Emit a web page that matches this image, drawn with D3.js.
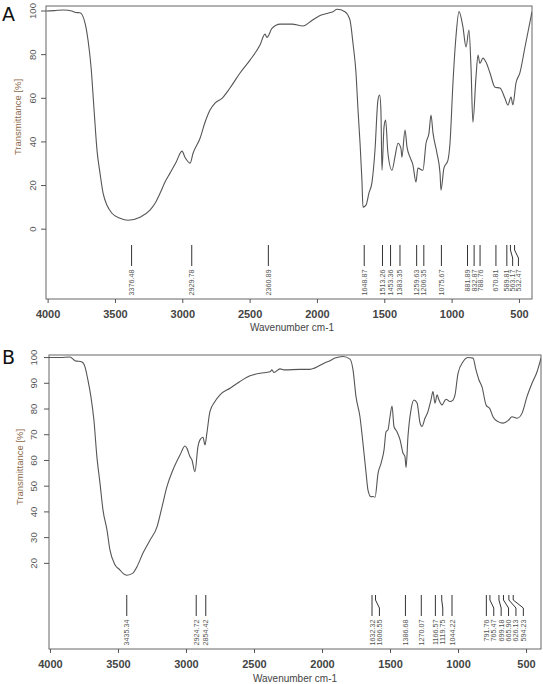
<!DOCTYPE html>
<html><head><meta charset="utf-8">
<script src="https://cdn.jsdelivr.net/npm/d3@7"></script>
<style>body{margin:0;background:#fff}svg{display:block}</style>
</head><body>
<svg id="c" width="543" height="684"></svg>
<script>
// ---- Data ----
const xTicks = [4000,3500,3000,2500,2000,1500,1000,500];
const yTicksA = [0,20,40,60,80,100];
const yTicksB = [20,30,40,50,60,70,80,90,100];

const waveA = [4010,3950,3880,3820,3790,3760,3722,3700,3677,3655,3633,3611,3588,3559,3522,3462,3403,3314,3240,3202,3165,3128,3091,3046,3002,2980,2942,2920,2868,2831,2794,2757,2705,2646,2571,2497,2423,2386,2371,2334,2274,2185,2104,2052,1977,1918,1881,1851,1792,1755,1732,1710,1695,1680,1666,1658,1636,1614,1591,1569,1547,1534,1525,1517,1502,1490,1473,1443,1421,1398,1376,1369,1346,1331,1309,1287,1265,1250,1213,1190,1168,1153,1138,1109,1086,1079,1057,1027,1012,990,968,945,916,893,871,856,842,819,804,790,767,745,715,678,641,604,582,559,545,522,493,455,403];
const transA = [100,100.2,100.5,100,99.3,99.2,94.5,86.7,74,54.6,36,25.7,16.5,11,7.3,5,4.1,5.5,8.7,11.9,16.5,21.6,25.7,30.7,35.8,33,30.3,34.8,41.7,49,54.6,57.8,60,64.7,71.6,77.5,84.4,89.4,87.9,92,94,94,93.1,95,98,99,99.7,100.8,99.7,95.9,85,71.6,54.6,39.4,22.5,10.1,11,16.5,21.6,36.2,59.2,61.5,54.6,27,46.8,50,34.9,27,33,39.4,37,33,45.4,37.6,33,29.4,21.6,28,27,39.4,44,52.3,44,34.9,25.7,17.9,28,31.7,39.4,67,88,99.7,92.7,83.5,91.3,74.3,49,69.7,79.8,76,78.4,76.6,71.6,65.1,64.7,60,56.9,60.6,57,67,71.6,83.5,99.7];

const waveB = [4007,3927,3853,3816,3765,3743,3721,3699,3677,3655,3632,3610,3581,3559,3522,3485,3463,3434,3390,3360,3316,3265,3213,3176,3140,3096,3044,3007,2993,2971,2956,2934,2912,2897,2875,2860,2846,2824,2787,2750,2676,2603,2529,2456,2382,2368,2353,2309,2272,2162,2088,2051,1978,1941,1904,1846,1794,1772,1750,1721,1699,1676,1662,1640,1625,1610,1588,1566,1544,1529,1515,1500,1485,1471,1449,1426,1404,1390,1382,1368,1346,1324,1301,1279,1265,1243,1221,1199,1184,1169,1154,1140,1118,1088,1059,1037,1022,1000,963,926,890,868,846,824,794,765,743,706,669,632,603,566,529,493,456,419,390];
const transB = [100,100,100.2,98.8,98.3,96.5,91.3,84.8,75.8,61.5,51.1,40.7,33,25.2,19.5,17.4,16.1,15.4,16.2,18.7,24,29,34.2,42,49.8,56.3,62.1,65.6,64.7,61.5,60.2,55.6,65.4,68,69,66,70.7,79,82.9,85.5,88.1,90.7,92.9,93.9,94.5,95.2,94.2,95.6,95.2,95.4,95.4,96,98,98.8,99.8,100.4,99.4,95.2,84.8,77,66.8,55.1,48.5,45.9,46,45.7,55,58.9,64.1,71.2,71.9,77,81.2,73.2,71.2,68,62.8,61.5,57.3,69.3,79.6,83.5,82.3,74.5,73.2,76.4,79,83.5,86.8,82.3,85.5,83.5,81.6,83.8,82.9,83.5,85.5,93.9,98.4,100,99.8,95.2,91.3,88.7,81.6,80,77,75.1,74.5,75.5,77,76.4,78.4,84.8,90,94.5,99.8];

const peaksA = ["3376.48","2929.78","2360.89","1648.87","1513.26","1453.36","1383.35","1259.63","1206.35","1075.67","881.89","832.87","788.76","670.81","589.81","563.17","532.47"];
const peaksB = ["3435.34","2924.72","2854.42","1632.32","1606.55","1386.68","1270.07","1166.57","1119.75","1044.22","791.76","765.47","699.18","665.90","626.13","594.23"];

// ---- Drawing ----
const svg = d3.select("#c");
const FONT = "'Liberation Sans', Arial, sans-serif";

function panel(cfg){
  const g = svg.append("g");
  const x = d3.scaleLinear().domain(cfg.xDom).range([cfg.left, cfg.right]);
  const y = d3.scaleLinear().domain(cfg.yDom).range([cfg.bottom, cfg.top]);
  const clipId = "clip" + cfg.name;
  svg.append("clipPath").attr("id", clipId).append("rect")
    .attr("x", cfg.left).attr("y", cfg.top)
    .attr("width", cfg.right-cfg.left).attr("height", cfg.bottom-cfg.top);

  // box
  g.append("rect").attr("x", cfg.left).attr("y", cfg.top)
    .attr("width", cfg.right-cfg.left).attr("height", cfg.bottom-cfg.top)
    .attr("fill","none").attr("stroke","#666").attr("stroke-width",1);

  // x axis
  const xa = g.append("g").attr("transform", `translate(0,${cfg.bottom})`)
    .call(d3.axisBottom(x).tickValues(xTicks).tickSize(4).tickSizeOuter(0).tickFormat(d3.format("d")));
  xa.select(".domain").remove();
  xa.selectAll("line").attr("stroke","#555");
  xa.selectAll("text").attr("font-family",FONT).attr("font-size",11).attr("font-weight","bold")
    .attr("fill","#444").attr("dy","1.05em");

  // y axis
  const ya = g.append("g").attr("transform", `translate(${cfg.left},0)`)
    .call(d3.axisLeft(y).tickValues(cfg.yTicks).tickSize(5).tickSizeOuter(0).tickFormat(d3.format("d")));
  ya.select(".domain").remove();
  ya.selectAll("line").attr("stroke","#555");
  ya.selectAll("text").attr("font-family",FONT).attr("font-size",9.5).attr("fill","#555")
    .attr("text-anchor","middle").attr("dy",null)
    .attr("transform", d => `translate(${cfg.yTickX - cfg.left},${y(d)}) rotate(-90)`)
    .attr("x",0).attr("y",0).attr("dominant-baseline","central");
  ya.selectAll(".tick").attr("transform","translate(0,0)");
  ya.selectAll(".tick line").attr("y1", d=>y(d)).attr("y2", d=>y(d));

  // axis titles
  g.append("text").attr("x", cfg.xLabX).attr("y", cfg.xLabY)
    .attr("text-anchor","middle").attr("font-family",FONT).attr("font-size",10)
    .attr("fill","#444").text("Wavenumber cm-1");
  g.append("text").attr("transform", `translate(${cfg.yLabX},${cfg.yLabY}) rotate(-90)`)
    .attr("text-anchor","middle").attr("dominant-baseline","central")
    .attr("font-family",FONT).attr("font-size",9.5).attr("fill","#8a6848").text("Transmittance [%]");

  // panel letter
  g.append("text").attr("x", cfg.letterX).attr("y", cfg.letterY)
    .attr("font-family","'DejaVu Sans', Arial, sans-serif").attr("font-size",19).attr("fill","#111")
    .text(cfg.name);

  // spectrum
  const pts = cfg.wave.map((w,i)=>[w,cfg.trans[i]]);
  g.append("path").datum(pts).attr("clip-path",`url(#${clipId})`)
    .attr("fill","none").attr("stroke","#555").attr("stroke-width",1.1)
    .attr("d", d3.line().x(d=>x(d[0])).y(d=>y(d[1])).curve(d3.curveMonotoneX));

  // peak labels
  let prev = -Infinity;
  const lab = cfg.peaks.map(p => {
    const tx = x(+p);
    const lx = Math.max(tx, prev + cfg.gap);
    prev = lx;
    return {p, tx, lx};
  });
  const [y0,y1,y2,y3] = cfg.ly;
  g.selectAll(".pk").data(lab).join("path").attr("class","pk")
    .attr("fill","none").attr("stroke","#333").attr("stroke-width",1)
    .attr("d", d => Math.abs(d.lx-d.tx) < 0.5
      ? `M${d.tx},${y0}V${y3}`
      : `M${d.tx},${y0}V${y1}L${d.lx},${y2}V${y3}`);
  g.selectAll(".pkt").data(lab).join("text").attr("class","pkt")
    .attr("transform", d => `translate(${d.lx},${y3+3.5}) rotate(-90)`)
    .attr("text-anchor","end").attr("dominant-baseline","central")
    .attr("font-family",FONT).attr("font-size",7.2).attr("fill","#555")
    .text(d => d.p);
}

panel({name:"A", xDom:[4012,403], yDom:[-32,102.3], left:46, right:532, top:6, bottom:299,
  yTicks:yTicksA, yTickX:32, wave:waveA, trans:transA, peaks:peaksA, gap:5.8,
  ly:[245,250,258,266], xLabX:292, xLabY:331, yLabX:17, yLabY:117, letterX:2, letterY:21});
panel({name:"B", xDom:[4007,390], yDom:[-13.3,101], left:49, right:541, top:355, bottom:649,
  yTicks:yTicksB, yTickX:33, wave:waveB, trans:transB, peaks:peaksB, gap:7.4,
  ly:[595,600,608,616], xLabX:295, xLabY:682, yLabX:19, yLabY:467, letterX:2, letterY:364});
</script>
</body></html>
